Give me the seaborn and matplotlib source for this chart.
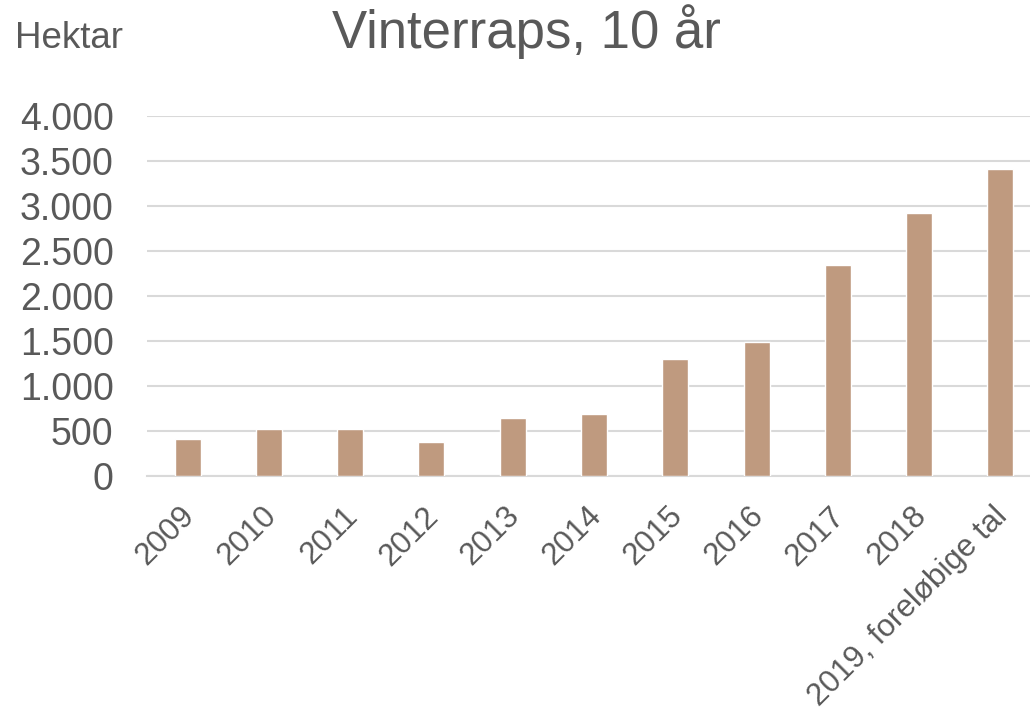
import matplotlib
matplotlib.use("Agg")
import matplotlib.pyplot as plt
import matplotlib.transforms as mtransforms
import seaborn as sns
import pandas as pd
from matplotlib.ticker import FuncFormatter

# Vinterraps, hektar pr. år
years = ["2009", "2010", "2011", "2012", "2013", "2014", "2015",
         "2016", "2017", "2018", "2019, foreløbige tal"]
hectares = [410, 520, 520, 380, 650, 690, 1300, 1490, 2350, 2920, 3410]

df = pd.DataFrame({"year": years, "hectares": hectares})

sns.set_style("white")
plt.rcParams["font.family"] = ["Liberation Sans", "DejaVu Sans"]
grey = "#595959"

fig = plt.figure(figsize=(10.3, 7.1), dpi=100)
ax = fig.add_axes([147 / 1030, 1 - 476 / 710, 894 / 1030, 360 / 710])

sns.barplot(data=df, x="year", y="hectares", color="#BF9A7F",
            saturation=1, width=0.32, ax=ax, zorder=3)

ax.set_ylim(0, 4000)
ax.set_yticks(range(0, 4001, 500))
ax.yaxis.set_major_formatter(FuncFormatter(lambda v, p: f"{v:,.0f}".replace(",", ".")))
ax.grid(axis="y", color="#D9D9D9", linewidth=1.5, zorder=0)
ax.grid(axis="x", visible=False)
for s in ["top", "right", "left"]:
    ax.spines[s].set_visible(False)
ax.spines["bottom"].set_color("#D9D9D9")
ax.spines["bottom"].set_linewidth(1.5)

ax.tick_params(axis="y", length=0, pad=24, labelsize=27, labelcolor=grey)
ax.tick_params(axis="x", length=0, pad=18, labelsize=22.5, labelcolor=grey)
shift = mtransforms.ScaledTranslation(-8 / 100, 0, fig.dpi_scale_trans)
for lbl in ax.get_xticklabels():
    lbl.set_rotation(45)
    lbl.set_ha("right")
    lbl.set_va("top")
    lbl.set_rotation_mode("anchor")
    lbl.set_transform(lbl.get_transform() + shift)
ax.set_xlabel("")
ax.set_ylabel("")

fig.text(15 / 1030, 1 - 48 / 710, "Hektar", fontsize=26.5, color=grey,
         ha="left", va="baseline")
fig.text(526 / 1030, 1 - 48 / 710, "Vinterraps, 10 år", fontsize=38,
         color=grey, ha="center", va="baseline")

fig.savefig("out.png", dpi=100)
